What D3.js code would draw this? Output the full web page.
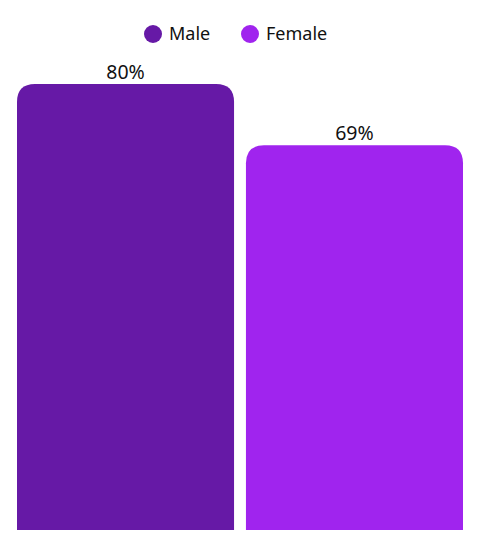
<!DOCTYPE html>
<html>
<head>
<meta charset="utf-8">
<script src="https://cdn.jsdelivr.net/npm/d3@7"></script>
<style>
  body { margin: 0; background: #fff; }
  svg { display: block; font-family: "Noto Sans", sans-serif; }
</style>
</head>
<body>
<svg id="chart" width="480" height="547"></svg>
<script>
// data
const categories = ["Male", "Female"];
const values = [80, 69];
const colors = ["#6619a6", "#a024ee"];

const svg = d3.select("#chart");
const plotBottom = 530, plotTop = 84;

const x = d3.scaleBand().domain(categories).range([17, 463]).paddingInner(0.052);
const y = d3.scaleLinear().domain([0, d3.max(values)]).range([plotBottom, plotTop]);
const color = d3.scaleOrdinal().domain(categories).range(colors);

// rounded top corners only
function barPath(x0, y0, w, h, r) {
    return `M${x0},${y0 + h}V${y0 + r}Q${x0},${y0} ${x0 + r},${y0}H${x0 + w - r}Q${x0 + w},${y0} ${x0 + w},${y0 + r}V${y0 + h}Z`;
}

const data = categories.map((c, i) => ({ cat: c, val: values[i] }));

svg.selectAll("path.bar")
    .data(data)
    .enter()
    .append("path")
    .attr("class", "bar")
    .attr("fill", d => color(d.cat))
    .attr("d", d => barPath(x(d.cat), y(d.val), x.bandwidth(), plotBottom - y(d.val), 18));

svg.selectAll("text.val")
    .data(data)
    .enter()
    .append("text")
    .attr("class", "val")
    .attr("x", d => x(d.cat) + x.bandwidth() / 2)
    .attr("y", d => y(d.val) - 5)
    .attr("text-anchor", "middle")
    .attr("font-size", 19.5)
    .attr("fill", "#111")
    .text(d => d.val + "%");

// legend
const legendX = [153, 250];
const legend = svg.selectAll("g.legend")
    .data(categories)
    .enter()
    .append("g")
    .attr("class", "legend")
    .attr("transform", (d, i) => `translate(${legendX[i]},34)`);

legend.append("circle")
    .attr("r", 9)
    .attr("fill", d => color(d));

legend.append("text")
    .attr("x", 16)
    .attr("dy", "0.35em")
    .attr("font-size", 18)
    .attr("fill", "#111")
    .text(d => d);
</script>
</body>
</html>
